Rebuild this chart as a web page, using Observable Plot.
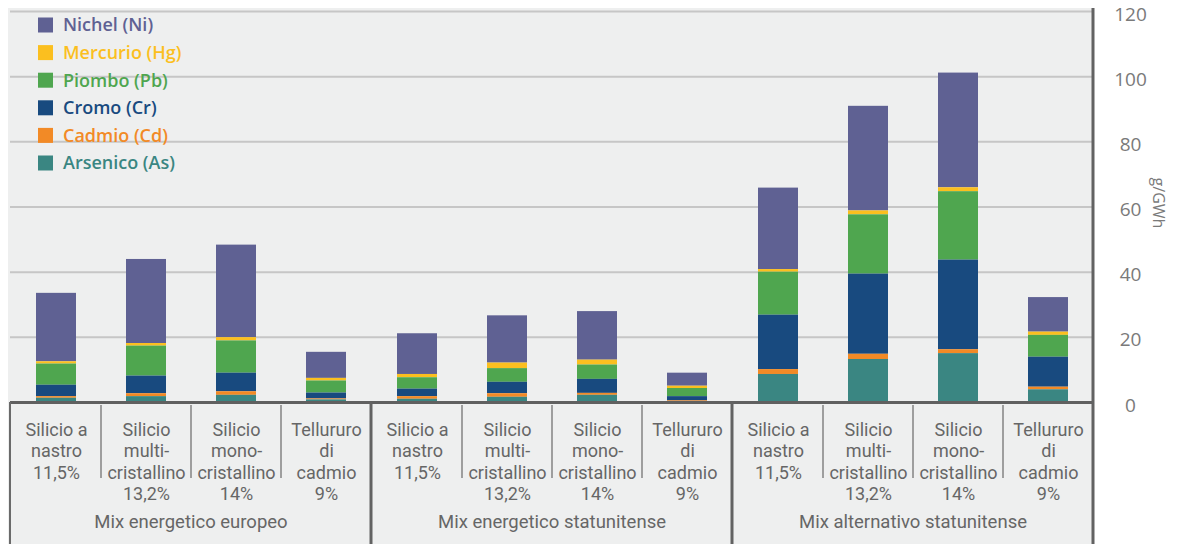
<!DOCTYPE html>
<html><head><meta charset="utf-8">
<script src="https://cdn.jsdelivr.net/npm/d3@7"></script>
<script src="https://cdn.jsdelivr.net/npm/@observablehq/plot@0.6"></script>
<style>
html,body{margin:0;padding:0;background:#fff;}
#chart{position:relative;width:1185px;height:544px;}
</style></head><body><div id="chart"></div>
<script>
// ---- data ----
const groups = ["Mix energetico europeo", "Mix energetico statunitense", "Mix alternativo statunitense"];
const techs = ["nastro", "multi", "mono", "cdte"];
const techLabels = ["Silicio a\nnastro\n11,5%", "Silicio\nmulti-\ncristallino\n13,2%", "Silicio\nmono-\ncristallino\n14%", "Tellururo\ndi\ncadmio\n9%"];
const metals = ["Nichel (Ni)", "Mercurio (Hg)", "Piombo (Pb)", "Cromo (Cr)", "Cadmio (Cd)", "Arsenico (As)"];
const metalColors = ["#5f6193", "#fbbf1f", "#4fa64f", "#184a7f", "#f28a26", "#3a8682"];
// g/GWh, 12 bars: 3 groups x 4 technologies
const nichel   = [21.0, 25.8, 28.4, 8.0,  12.5, 14.5, 14.9, 4.0,  25.0, 32.1, 35.2, 10.6];
const mercurio = [0.7,  0.8,  1.0,  0.8,  1.0,  1.7,  1.5,  0.7,  0.8,  1.2,  1.2,  1.0];
const piombo   = [6.5,  9.2,  9.9,  3.7,  3.5,  4.2,  4.4,  2.5,  13.2, 18.2, 21.0, 6.7];
const cromo    = [3.5,  5.4,  5.7,  1.8,  2.3,  3.5,  4.3,  1.3,  16.7, 24.6, 27.5, 9.2];
const cadmio   = [0.5,  0.9,  1.1,  0.3,  0.8,  1.1,  0.6,  0.2,  1.5,  1.6,  1.2,  0.8];
const arsenico = [1.3,  1.8,  2.2,  0.8,  1.0,  1.6,  2.2,  0.3,  8.6,  13.2, 15.0, 3.9];
const yTicks = [0, 20, 40, 60, 80, 100, 120];
const yLabel = "g/GWh";

// ---- tables ----
const series = [nichel, mercurio, piombo, cromo, cadmio, arsenico];
const data = [];
groups.forEach((g, gi) => techs.forEach((t, ti) => metals.forEach((m, mi) => {
  data.push({group: g, tech: t, metal: m, value: series[mi][gi * 4 + ti]});
})));
const cats = [];
groups.forEach(g => techs.forEach((t, ti) => cats.push({group: g, tech: t, label: techLabels[ti]})));
const stackOrder = metals.slice().reverse();

const W = 1185, H = 544, mT = 11, mB = 142, mL = 10, mR = 92;
const FONT = "'Open Sans', sans-serif";
const LABEL_FONT = "Roboto, 'Open Sans', sans-serif";
const textGray = "#666666";

const plot = Plot.plot({
  width: W, height: H,
  marginTop: mT, marginBottom: mB, marginLeft: mL, marginRight: mR,
  style: {background: "transparent", fontFamily: FONT, overflow: "visible"},
  fx: {domain: groups, padding: 0, axis: null},
  x: {domain: techs, paddingInner: 0.56, paddingOuter: 0.28, axis: null},
  y: {domain: [0, 120], axis: null, label: null},
  color: {domain: metals, range: metalColors},
  marks: [
    Plot.gridY(yTicks.filter(d => d > 0), {stroke: "#c6c6c6", strokeWidth: 2, strokeOpacity: 1}),
    Plot.barY(data, {fx: "group", x: "tech", y: "value", fill: "metal", order: stackOrder}),
    Plot.ruleY([0], {stroke: "#606060", strokeWidth: 3}),
    Plot.text(cats, {fx: "group", x: "tech", text: "label", frameAnchor: "bottom", lineAnchor: "top",
      dy: 18.5, lineHeight: 1.18, fontSize: 18, fontFamily: LABEL_FONT, fill: textGray}),
    Plot.text(groups, {fx: d => d, text: d => d, frameAnchor: "bottom", dy: 125, fontSize: 18.5,
      fontFamily: LABEL_FONT, fill: textGray}),
    Plot.axisY(yTicks, {anchor: "right", tickSize: 0, tickPadding: 37, textAnchor: "middle", dy: 3,
      fontSize: 19, color: "#7a7a7a", label: null}),
    Plot.text([yLabel], {fx: () => groups[2], text: d => d, frameAnchor: "right", textAnchor: "middle",
      dx: 65, dy: -4, rotate: 90, fontSize: 16, fill: "#7a7a7a"})
  ]
});

const svg = d3.select(plot);
const fxS = plot.scale("fx"), xS = plot.scale("x");
const r0 = xS.range[0];
const bw = xS.bandwidth;
const baseY = H - mB, rightX = W - mR;

// panel background
svg.insert("rect", ":first-child")
  .attr("x", 8).attr("y", 8).attr("width", rightX - 8).attr("height", H - 8)
  .attr("fill", "#eeefef");

// category table lines
const lines = svg.append("g");
groups.forEach((gr, gi) => {
  const off = fxS.apply(gr) - r0;
  techs.forEach((t, ti) => {
    if (ti === 0) return;
    const xb = off + (xS.apply(techs[ti - 1]) + bw + xS.apply(t)) / 2;
    lines.append("line").attr("x1", xb).attr("x2", xb).attr("y1", baseY + 3).attr("y2", baseY + 76)
      .attr("stroke", "#8a8a8a").attr("stroke-width", 1.6);
  });
  if (gi > 0) {
    const xg = fxS.apply(gr);
    lines.append("line").attr("x1", xg).attr("x2", xg).attr("y1", baseY).attr("y2", H)
      .attr("stroke", "#626262").attr("stroke-width", 3);
  }
});
lines.append("line").attr("x1", mL).attr("x2", mL).attr("y1", baseY).attr("y2", H)
  .attr("stroke", "#6a6a6a").attr("stroke-width", 2);
lines.append("line").attr("x1", rightX).attr("x2", rightX).attr("y1", 8).attr("y2", H)
  .attr("stroke", "#626262").attr("stroke-width", 3);

// legend
const leg = svg.append("g").attr("text-anchor", "start");
metals.forEach((m, i) => {
  const cy = 25 + i * 27.6;
  leg.append("rect").attr("x", 38).attr("y", cy - 7.5).attr("width", 15).attr("height", 15).attr("fill", metalColors[i]);
  leg.append("text").attr("x", 63).attr("y", cy).attr("dy", "0.36em").attr("fill", metalColors[i])
    .attr("text-anchor", "start")
    .style("font", `600 18px ${FONT}`).text(m);
});

document.getElementById("chart").appendChild(plot);
</script>
</body></html>
